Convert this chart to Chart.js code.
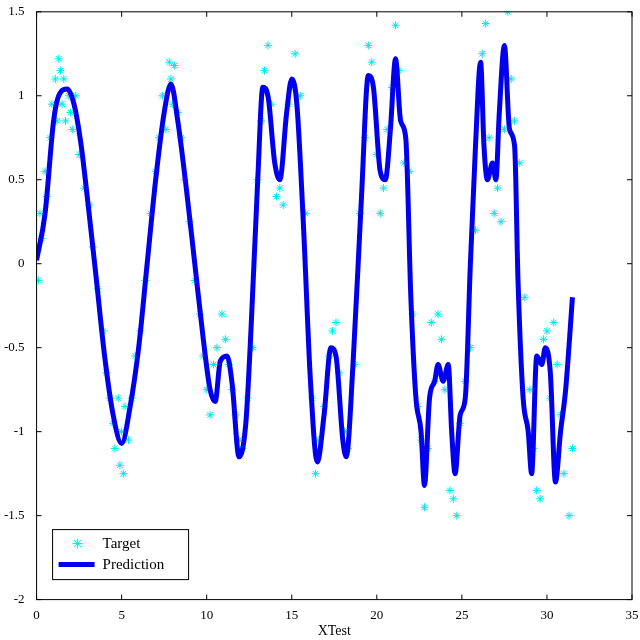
<!DOCTYPE html>
<html><head><meta charset="utf-8">
<script src="https://cdn.jsdelivr.net/npm/chart.js@4/dist/chart.umd.min.js"></script>
<style>html,body{margin:0;padding:0;background:#fff}#w{width:640px;height:640px}</style>
</head><body><div id="w"><canvas id="c"></canvas></div>
<script>
const predX=[0,0.5,1.0,1.3,1.8,2.2,2.6,3.0,3.5,4.0,4.5,5.0,5.5,6.0,6.5,7.0,7.5,7.9,8.3,8.8,9.3,9.8,10.2,10.5,10.8,11.2,11.5,11.9,12.3,12.6,13.0,13.3,13.6,14.0,14.3,14.7,15.0,15.3,15.7,16.1,16.5,16.9,17.3,17.6,18.0,18.2,18.6,19.1,19.5,19.8,20.2,20.5,20.8,21.1,21.4,21.7,22.0,22.3,22.6,22.8,23.1,23.4,23.6,23.9,24.2,24.4,24.6,24.9,25.2,25.5,25.8,26.1,26.3,26.5,26.8,27.0,27.2,27.5,27.8,28.1,28.3,28.6,28.9,29.1,29.4,29.7,29.9,30.2,30.5,30.8,31.1,31.5];
const predY=[0.02,0.3,0.85,1.0,1.04,0.95,0.72,0.38,-0.08,-0.55,-0.9,-1.07,-0.85,-0.5,0.0,0.5,0.9,1.07,0.85,0.45,0.0,-0.45,-0.75,-0.82,-0.58,-0.55,-0.72,-1.15,-0.95,-0.4,0.5,1.05,1.0,0.6,0.5,0.9,1.1,0.95,0.2,-0.7,-1.18,-0.9,-0.5,-0.55,-1.05,-1.15,-0.6,0.4,1.12,1.05,0.55,0.5,0.8,1.22,0.85,0.75,-0.2,-0.8,-1.0,-1.32,-0.8,-0.7,-0.6,-0.7,-0.6,-1.0,-1.25,-0.9,-0.8,0.0,0.7,1.2,0.7,0.5,0.6,0.5,0.9,1.3,0.8,0.7,-0.1,-0.8,-1.0,-1.25,-0.55,-0.6,-0.5,-0.65,-1.3,-1.0,-0.75,-0.2];
const targX=[0.1,0.2,0.3,0.5,0.6,0.8,0.9,1.1,1.2,1.3,1.4,1.5,1.6,1.7,1.9,2.0,2.1,2.3,2.5,2.8,3.1,3.3,3.6,3.9,4.1,4.3,4.5,4.6,4.8,4.9,5.0,5.1,5.2,5.4,5.6,5.8,6.1,6.4,6.7,7.0,7.2,7.4,7.6,7.8,7.9,8.0,8.1,8.3,8.5,8.7,9.0,9.3,9.6,9.8,10.0,10.2,10.4,10.6,10.9,11.1,11.3,11.5,11.7,11.9,12.1,12.4,12.7,13.0,13.2,13.4,13.6,13.8,14.1,14.3,14.5,14.8,15.0,15.2,15.5,15.8,16.2,16.4,16.6,16.9,17.2,17.4,17.6,17.8,18.1,18.3,18.7,19.0,19.3,19.5,19.7,20.0,20.2,20.4,20.6,20.9,21.1,21.3,21.6,21.9,22.1,22.4,22.6,22.8,23.0,23.2,23.4,23.6,23.8,24.0,24.3,24.5,24.7,24.9,25.2,25.5,25.8,26.0,26.2,26.4,26.6,26.9,27.1,27.3,27.5,27.7,27.9,28.1,28.4,28.7,29.0,29.2,29.4,29.6,29.8,30.0,30.2,30.4,30.6,30.8,31.0,31.3,31.5];
const targY=[-0.1,0.3,0.15,0.55,0.4,0.75,0.95,1.1,0.85,1.22,1.15,0.95,1.1,0.85,1.0,0.9,0.8,1.0,0.65,0.45,0.35,0.1,-0.15,-0.4,-0.65,-0.8,-0.95,-1.1,-0.8,-1.2,-1.0,-1.25,-0.85,-1.05,-0.8,-0.55,-0.4,-0.1,0.3,0.55,0.75,1.0,0.8,1.2,1.1,0.95,1.18,0.9,0.75,0.5,0.25,-0.1,-0.3,-0.55,-0.75,-0.9,-0.6,-0.5,-0.3,-0.45,-0.6,-0.75,-0.9,-1.05,-1.1,-0.8,-0.5,0.5,0.85,1.15,1.3,0.95,0.4,0.45,0.35,0.95,1.05,1.25,1.0,0.3,-0.8,-1.25,-1.05,-0.85,-0.55,-0.4,-0.35,-0.65,-1.0,-1.1,-0.6,0.3,0.75,1.3,1.2,0.65,0.3,0.45,0.8,1.05,1.42,1.15,0.6,0.55,-0.3,-0.85,-1.05,-1.45,-1.1,-0.35,-0.7,-0.3,-0.45,-0.75,-1.35,-1.4,-1.5,-0.95,-0.7,-0.5,0.2,0.95,1.25,1.43,0.75,0.3,0.45,0.25,0.8,1.5,1.1,0.85,0.6,-0.2,-0.75,-1.1,-1.35,-1.4,-0.45,-0.4,-0.8,-0.35,-0.6,-0.9,-1.25,-1.5,-1.1,-0.85,0.1];
const xTicks=[0,5,10,15,20,25,30,35];
const yTicks=[-2,-1.5,-1,-0.5,0,0.5,1,1.5];
const F='"Liberation Serif", serif';
const frame={id:'frame',afterDraw(ch){const c=ch.ctx,a=ch.chartArea;c.save();c.strokeStyle='#000';c.lineWidth=1;c.strokeRect(a.left,a.top,a.right-a.left,a.bottom-a.top);
const xs=ch.scales.x,ys=ch.scales.y;c.beginPath();xTicks.forEach(t=>{const p=xs.getPixelForValue(t);c.moveTo(p,a.bottom);c.lineTo(p,a.bottom-5);c.moveTo(p,a.top);c.lineTo(p,a.top+5);});
yTicks.forEach(t=>{const p=ys.getPixelForValue(t);c.moveTo(a.left,p);c.lineTo(a.left+5,p);c.moveTo(a.right,p);c.lineTo(a.right-5,p);});c.stroke();
const bx=a.left+16,by=a.bottom-70,bw=136,bh=50;c.fillStyle='#fff';c.fillRect(bx,by,bw,bh);c.strokeRect(bx,by,bw,bh);
c.strokeStyle='#00e5ee';c.lineWidth=1;const sx=bx+25,sy=by+14;for(let i=0;i<4;i++){const an=i*Math.PI/4;c.beginPath();c.moveTo(sx-5*Math.cos(an),sy-5*Math.sin(an));c.lineTo(sx+5*Math.cos(an),sy+5*Math.sin(an));c.stroke();}
c.strokeStyle='#0000ee';c.lineWidth=5;c.beginPath();c.moveTo(bx+6,by+35);c.lineTo(bx+42,by+35);c.stroke();
c.fillStyle='#000';c.font='15px '+F;c.textBaseline='middle';c.fillText('Target',bx+50,sy);c.fillText('Prediction',bx+50,by+35);c.restore();}};
new Chart(document.getElementById('c'),{
data:{datasets:[
{type:'line',label:'Prediction',data:predX.map((x,i)=>({x,y:predY[i]})),borderColor:'#0000ee',borderWidth:5,pointRadius:0,tension:0.4,cubicInterpolationMode:'monotone',order:1},
{type:'scatter',label:'Target',data:targX.map((x,i)=>({x,y:targY[i]})),pointStyle:'star',radius:4,borderColor:'#00e5ee',backgroundColor:'#00e5ee',borderWidth:1,order:2}
]},
options:{responsive:true,maintainAspectRatio:false,animation:false,
layout:{padding:{top:5,right:8,left:0,bottom:0}},
plugins:{legend:{display:false},tooltip:{enabled:false}},
scales:{
x:{type:'linear',min:0,max:35,afterBuildTicks:s=>{s.ticks=xTicks.map(v=>({value:v}))},grid:{display:false},border:{display:false},ticks:{font:{family:F,size:13},color:'#000',padding:0,callback:v=>String(v)},title:{display:true,text:'XTest',font:{family:F,size:14},color:'#000',padding:{top:0,bottom:0}}},
y:{min:-2,max:1.5,afterBuildTicks:s=>{s.ticks=yTicks.map(v=>({value:v}))},grid:{display:false},border:{display:false},ticks:{font:{family:F,size:13},color:'#000',padding:4,callback:v=>String(v)}}
}}, plugins:[frame]});
</script></body></html>
